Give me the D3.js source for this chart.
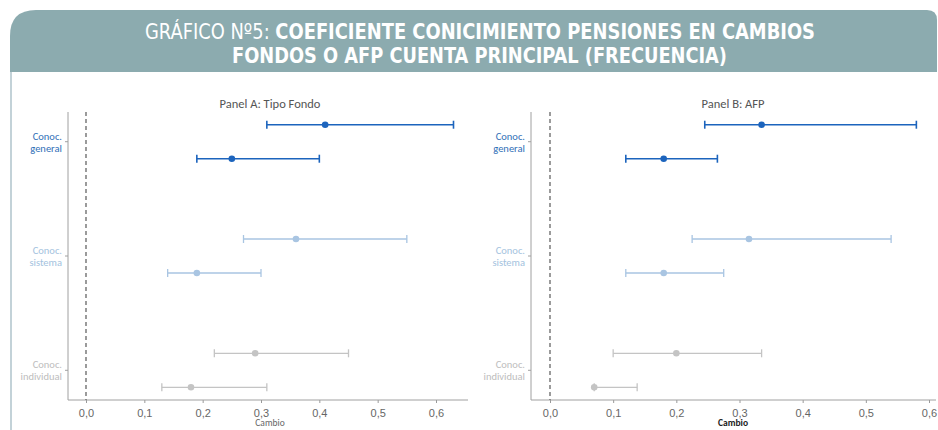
<!DOCTYPE html>
<html>
<head>
<meta charset="utf-8">
<script src="https://cdn.jsdelivr.net/npm/d3@7"></script>
<style>
  body { margin: 0; background: #fff; }
  svg { display: block; font-family: Calibri, Carlito, "Open Sans", "Noto Sans", sans-serif; }
  .ttl { font-family: "Liberation Sans Narrow", "DejaVu Sans Condensed", "Roboto", sans-serif; fill: #fff; font-size: 21px; }
  .ptitle { font-size: 12.5px; fill: #555; }
  .tick text { font-size: 11px; fill: #666; }
  .catlab { font-size: 10.5px; }
</style>
</head>
<body>
<svg width="938" height="430"></svg>
<script>
// categories (top to bottom)
var categories = ["Conoc. general", "Conoc. sistema", "Conoc. individual"];
var catColors = ["#2f6fb7", "#a3c2de", "#bdbdbd"];
var dotColors = ["#1c64bd", "#a9c5e2", "#c4c4c4"];
var xTicks = [0, 0.1, 0.2, 0.3, 0.4, 0.5, 0.6];

// Panel A: Tipo Fondo — two estimates per category (upper row, lower row)
var panelA_upper = [
  { lo: 0.31, est: 0.41, hi: 0.63 },
  { lo: 0.27, est: 0.36, hi: 0.55 },
  { lo: 0.22, est: 0.29, hi: 0.45 }
];
var panelA_lower = [
  { lo: 0.19, est: 0.25, hi: 0.40 },
  { lo: 0.14, est: 0.19, hi: 0.30 },
  { lo: 0.13, est: 0.18, hi: 0.31 }
];

// Panel B: AFP
var panelB_upper = [
  { lo: 0.245, est: 0.335, hi: 0.58 },
  { lo: 0.225, est: 0.315, hi: 0.54 },
  { lo: 0.10, est: 0.20, hi: 0.335 }
];
var panelB_lower = [
  { lo: 0.12, est: 0.18, hi: 0.265 },
  { lo: 0.12, est: 0.18, hi: 0.275 },
  { lo: 0.07, est: 0.07, hi: 0.138 }
];

var svg = d3.select("svg");

// header band
var hx = 10, hy = 10, hw = 927, hh = 62, rl = 26, rr = 10;
svg.append("path")
  .attr("d", "M" + hx + "," + (hy + hh) + " L" + hx + "," + (hy + rl) +
    " Q" + hx + "," + hy + " " + (hx + rl) + "," + hy +
    " L" + (hx + hw - rr) + "," + hy +
    " Q" + (hx + hw) + "," + hy + " " + (hx + hw) + "," + (hy + rr) +
    " L" + (hx + hw) + "," + (hy + hh) + " Z")
  .attr("fill", "#8cabaf");

svg.append("line")
  .attr("x1", 11).attr("x2", 11).attr("y1", 72).attr("y2", 430)
  .attr("stroke", "#c3d2d8").attr("stroke-width", 2);

var t1 = svg.append("text").attr("class", "ttl")
  .attr("x", 145).attr("y", 39)
  .attr("textLength", 670).attr("lengthAdjust", "spacingAndGlyphs");
t1.append("tspan").attr("font-weight", 300).text("GRÁFICO Nº5: ");
t1.append("tspan").attr("font-weight", "bold").text("COEFICIENTE CONICIMIENTO PENSIONES EN CAMBIOS");

svg.append("text").attr("class", "ttl")
  .attr("x", 232).attr("y", 63).attr("font-weight", "bold")
  .attr("textLength", 495).attr("lengthAdjust", "spacingAndGlyphs")
  .text("FONDOS O AFP CUENTA PRINCIPAL (FRECUENCIA)");

function drawPanel(opt) {
  var g = svg.append("g");
  var top = 112, bottom = 400;

  var x = d3.scaleLinear().domain([0, 0.6]).range([opt.x0, opt.x6]);
  var y = d3.scalePoint().domain(categories).range([top, bottom]).padding(0.26);
  var off = 17;

  g.append("text").attr("class", "ptitle")
    .attr("x", opt.titleX).attr("y", 108)
    .attr("text-anchor", "middle")
    .text(opt.title);

  // x axis
  var xa = g.append("g")
    .attr("transform", "translate(0," + bottom + ")")
    .call(d3.axisBottom(x).tickValues(xTicks).tickSize(3).tickPadding(6)
      .tickFormat(function (d) { return d3.format(".1f")(d).replace(".", ","); }));
  xa.select(".domain").remove();
  xa.selectAll(".tick line").attr("stroke", "#999");
  g.append("line")
    .attr("x1", opt.axisX).attr("x2", opt.axisEnd)
    .attr("y1", bottom).attr("y2", bottom)
    .attr("stroke", "#a0a0a0");

  // y axis
  g.append("line")
    .attr("x1", opt.axisX).attr("x2", opt.axisX)
    .attr("y1", top).attr("y2", bottom)
    .attr("stroke", "#a0a0a0");

  categories.forEach(function (c, i) {
    var yy = y(c);
    g.append("line")
      .attr("x1", opt.axisX - 3).attr("x2", opt.axisX)
      .attr("y1", yy).attr("y2", yy)
      .attr("stroke", "#a0a0a0");
    var parts = c.split(" ");
    var t = g.append("text").attr("class", "catlab")
      .attr("text-anchor", "end")
      .attr("fill", catColors[i]);
    t.append("tspan").attr("x", opt.axisX - 6).attr("y", yy - 2).text(parts[0]);
    t.append("tspan").attr("x", opt.axisX - 6).attr("y", yy + 10).text(parts[1]);
  });

  g.append("text")
    .attr("x", opt.titleX).attr("y", 426)
    .attr("text-anchor", "middle")
    .attr("font-size", 9.5)
    .attr("fill", opt.labelColor)
    .attr("font-weight", opt.labelWeight)
    .text("Cambio");

  // zero reference line
  g.append("line")
    .attr("x1", x(0)).attr("x2", x(0))
    .attr("y1", top).attr("y2", bottom)
    .attr("stroke", "#666").attr("stroke-width", 1.3)
    .attr("stroke-dasharray", "4,3");

  var rows = [];
  categories.forEach(function (c, i) {
    rows.push({ d: opt.upper[i], y: y(c) - off, i: i });
    rows.push({ d: opt.lower[i], y: y(c) + off, i: i });
  });

  var r = g.selectAll(".ci").data(rows).enter().append("g").attr("class", "ci");
  function col(d) { return dotColors[d.i]; }
  function w(d) { return d.i === 0 ? 1.6 : 1.3; }
  r.append("line")
    .attr("x1", function (d) { return x(d.d.lo); })
    .attr("x2", function (d) { return x(d.d.hi); })
    .attr("y1", function (d) { return d.y; })
    .attr("y2", function (d) { return d.y; })
    .attr("stroke", col).attr("stroke-width", w);
  ["lo", "hi"].forEach(function (k) {
    r.append("line")
      .attr("x1", function (d) { return x(d.d[k]); })
      .attr("x2", function (d) { return x(d.d[k]); })
      .attr("y1", function (d) { return d.y - 4; })
      .attr("y2", function (d) { return d.y + 4; })
      .attr("stroke", col).attr("stroke-width", w);
  });
  r.append("circle")
    .attr("cx", function (d) { return x(d.d.est); })
    .attr("cy", function (d) { return d.y; })
    .attr("r", 3.3)
    .attr("fill", col);
}

drawPanel({
  title: "Panel A: Tipo Fondo", titleX: 270,
  x0: 86, x6: 436, axisX: 68, axisEnd: 468,
  upper: panelA_upper, lower: panelA_lower,
  labelColor: "#666", labelWeight: "normal"
});
drawPanel({
  title: "Panel B: AFP", titleX: 733,
  x0: 550, x6: 929, axisX: 531, axisEnd: 936,
  upper: panelB_upper, lower: panelB_lower,
  labelColor: "#222", labelWeight: "bold"
});
</script>
</body>
</html>
